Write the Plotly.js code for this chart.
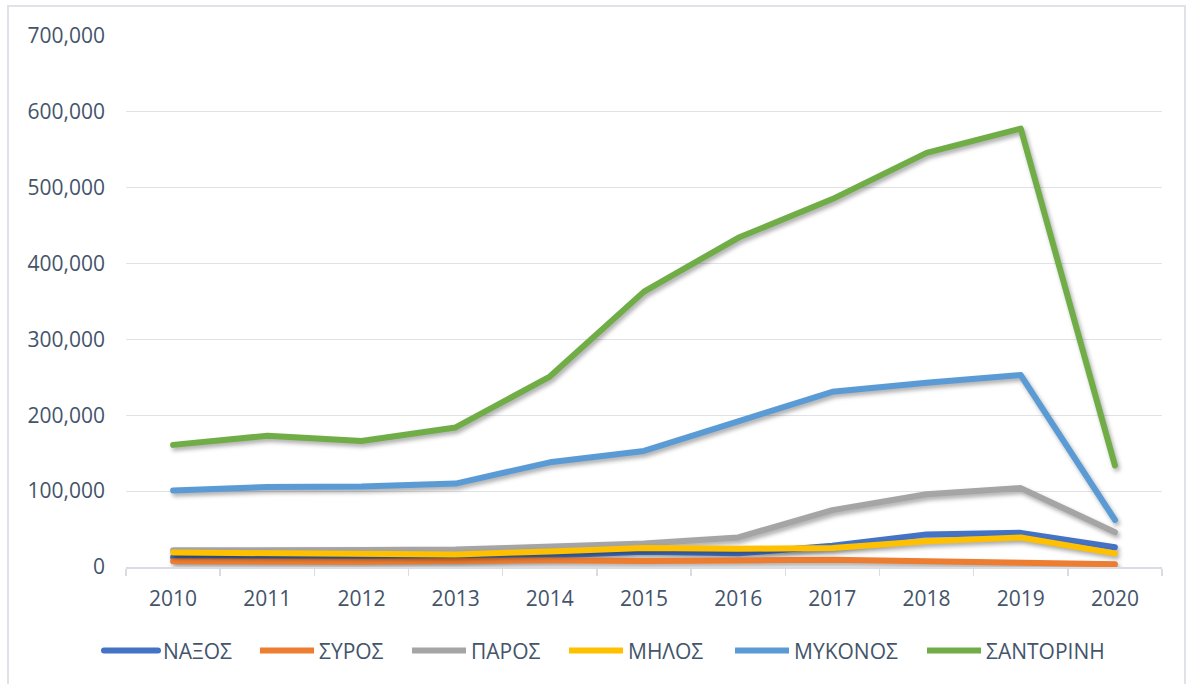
<!DOCTYPE html>
<html>
<head>
<meta charset="utf-8">
<script src="https://cdn.plot.ly/plotly-3.0.1.min.js"></script>
<style>
  html, body { margin: 0; padding: 0; background: #ffffff; overflow: hidden; }
  #wrap { position: relative; width: 1192px; height: 684px; }
  #chart { position: absolute; left: 0; top: 0; width: 1192px; height: 684px; }
  #frame { position: absolute; left: 7px; top: 5px; width: 1179px; height: 700px;
           border: 2px solid #dfe2e7; box-sizing: border-box; pointer-events: none; }
  .scatterlayer .js-line {
    stroke-linecap: round !important; stroke-linejoin: round !important;
    filter: drop-shadow(2px 3px 2px rgba(0,0,0,0.32));
  }
  .legend .js-line { stroke-linecap: round !important; }
</style>
</head>
<body>
<div id="wrap">
  <div id="chart"></div>
  <div id="frame"></div>
</div>
<script>
const years = ["2010","2011","2012","2013","2014","2015","2016","2017","2018","2019","2020"];
const seriesNames = ["ΝΑΞΟΣ","ΣΥΡΟΣ","ΠΑΡΟΣ","ΜΗΛΟΣ","ΜΥΚΟΝΟΣ","ΣΑΝΤΟΡΙΝΗ"];
const naxos     = [13000, 12000, 12000, 12000, 15000, 20000, 18000, 28000, 43000, 45000, 26000];
const syros     = [7500, 7000, 7000, 8000, 9000, 8000, 9500, 9500, 7500, 5700, 3500];
const paros     = [22000, 23000, 22500, 23000, 27000, 31000, 39000, 75000, 96000, 104000, 46000];
const milos     = [19000, 18500, 18000, 16500, 20500, 25000, 24000, 25000, 34000, 39000, 18000];
const mykonos   = [101000, 105500, 106000, 110000, 138000, 153000, 192000, 231000, 243000, 253000, 62000];
const santorini = [161000, 173000, 166000, 184000, 251000, 363000, 434000, 485000, 546000, 578000, 134000];
const seriesValues = [naxos, syros, paros, milos, mykonos, santorini];
const colors = ["#4472C4","#ED7D31","#A5A5A5","#FFC000","#5B9BD5","#70AD47"];
const yTickVals = [0,100000,200000,300000,400000,500000,600000,700000];

const FONT = "'Open Sans', 'Noto Sans', sans-serif";
const TXT = "#44546A";

// legend entry left positions (px) in page
const legendStarts = [99, 255, 407, 564, 730, 922];
const plotL = 126, plotR = 1162;
const legendKeys = ["legend","legend2","legend3","legend4","legend5","legend6"];

const traces = seriesNames.map((n, i) => ({
  type: "scatter", mode: "lines", name: n,
  x: years, y: seriesValues[i],
  line: { color: colors[i], width: 6 },
  legend: legendKeys[i],
  hoverinfo: "skip"
}));

const layout = {
  width: 1192, height: 684,
  paper_bgcolor: "rgba(0,0,0,0)", plot_bgcolor: "rgba(0,0,0,0)",
  margin: { l: plotL, r: 1192 - plotR, t: 36, b: 117 },
  font: { family: FONT, color: TXT, size: 21 },
  showlegend: true,
  xaxis: {
    type: "category", range: [-0.5, 10.5],
    showgrid: false, showline: true, linecolor: "#d9dde3", linewidth: 1.5,
    ticks: "outside", tickson: "boundaries", ticklen: 7, tickcolor: "#d9dde3", tickwidth: 1.5,
    tickfont: { family: FONT, color: TXT, size: 21 },
    ticklabelstandoff: 12,
    zeroline: false, fixedrange: true
  },
  yaxis: {
    range: [0, 700000], tickvals: yTickVals, tickformat: ",",
    showgrid: true, gridcolor: "#dfe2e7", gridwidth: 1.2,
    showline: false, zeroline: false, ticks: "",
    tickfont: { family: FONT, color: TXT, size: 21 },
    ticklabelstandoff: 20, fixedrange: true
  }
};
legendKeys.forEach((k, i) => {
  layout[k] = {
    orientation: "h",
    x: (legendStarts[i] - plotL) / (plotR - plotL), xanchor: "left",
    y: -0.158, yanchor: "middle",
    font: { family: FONT, color: TXT, size: 21 },
    bgcolor: "rgba(0,0,0,0)", borderwidth: 0,
    itemwidth: 54, itemclick: false, itemdoubleclick: false
  };
});

Plotly.newPlot("chart", traces, layout, { displayModeBar: false, staticPlot: true });
</script>
</body>
</html>
